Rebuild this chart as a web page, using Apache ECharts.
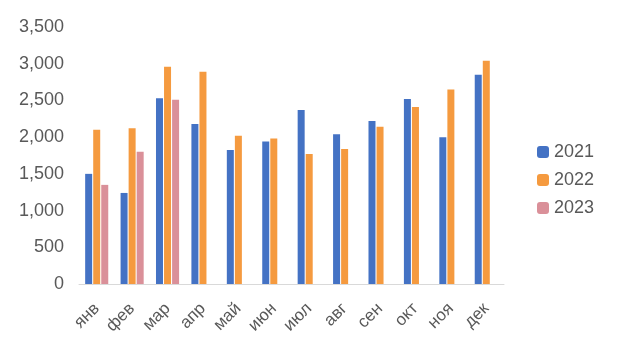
<!DOCTYPE html>
<html><head><meta charset="utf-8">
<script src="https://cdn.jsdelivr.net/npm/echarts@6/dist/echarts.min.js"></script>
<style>html,body{margin:0;padding:0;background:#fff}#c{width:620px;height:359px}</style>
</head><body><div id="c"></div>
<script>
var categories = ['янв','фев','мар','апр','май','июн','июл','авг','сен','окт','ноя','дек'];
var s2021 = [1500,1240,2530,2180,1825,1940,2370,2040,2220,2520,2000,2850];
var s2022 = [2100,2120,2960,2890,2020,1980,1770,1840,2140,2410,2650,3040];
var s2023 = [1350,1800,2510,null,null,null,null,null,null,null,null,null];
var yTicks = [0,500,1000,1500,2000,2500,3000,3500];
var chart = echarts.init(document.getElementById('c'));
var font = 'Liberation Sans, Arial, sans-serif';
chart.setOption({
  animation:false,
  grid:{left:79,right:116,top:27,bottom:75},
  legend:{orient:'vertical',left:532,top:138,itemWidth:12,itemHeight:12,itemGap:10,
    textStyle:{fontFamily:font,fontSize:18,color:'#595959'},
    data:['2021','2022','2023']},
  xAxis:{type:'category',data:categories,
    axisLine:{lineStyle:{color:'#d9d9d9'}},axisTick:{show:false},
    axisLabel:{rotate:45,fontFamily:font,fontSize:17,color:'#595959',margin:22,interval:0}},
  yAxis:{type:'value',min:yTicks[0],max:yTicks[yTicks.length-1],interval:500,
    axisLine:{show:false},axisTick:{show:false},splitLine:{show:false},
    axisLabel:{fontFamily:font,fontSize:18,color:'#595959',margin:15,
      formatter:function(v){return v.toLocaleString('en-US');}}},
  series:[
    {name:'2021',type:'bar',data:s2021,barWidth:7,barGap:'15%',itemStyle:{color:'#4472c4'}},
    {name:'2022',type:'bar',data:s2022,barWidth:7,barGap:'15%',itemStyle:{color:'#f59a3f'}},
    {name:'2023',type:'bar',data:s2023,barWidth:7,barGap:'15%',itemStyle:{color:'#da9099'}}
  ]
});
</script></body></html>
